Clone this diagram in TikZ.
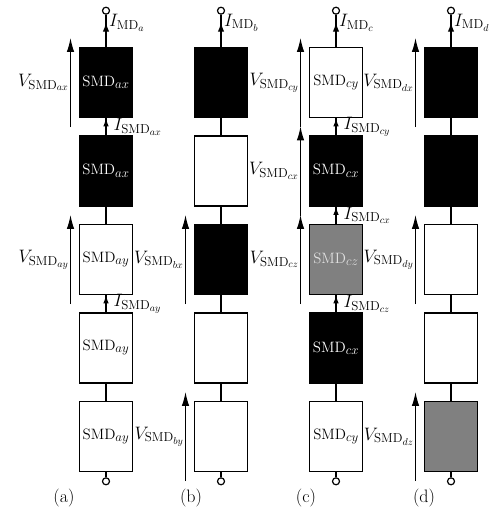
\RequirePackage{fix-cm}
\documentclass[tikz,border=0pt]{standalone}
\usetikzlibrary{arrows.meta}
% large subscripts for the cell names and the electrical labels
\DeclareMathSizes{15}{15}{13}{10}
\DeclareMathSizes{18}{18}{13}{10}
\begin{document}
\begin{tikzpicture}[x=1pt,y=-1pt,
  cell/.style={draw=black, line width=1.6pt, minimum width=53pt, minimum height=70pt,
    inner sep=0pt, font=\fontsize{15}{17}\selectfont},
  wcell/.style={cell, fill=white, text=black},
  bcell/.style={cell, fill=black, text=white},
  gcell/.style={cell, fill=black!50, text=black!12},
  wire/.style={line width=1.3pt},
  cur/.style={wire, -{Latex[length=8pt,width=5.5pt]}},
  feed/.style={wire, -{Latex[length=9pt,width=6.5pt]}},
  volt/.style={line width=1.2pt, -{Latex[length=14pt,width=7.5pt]}},
  term/.style={circle, draw=black, line width=1.2pt, fill=white, minimum size=7pt, inner sep=0pt},
  lab/.style={font=\fontsize{18}{21}\selectfont, inner sep=1pt},
  caption/.style={font=\fontsize{18}{21}\selectfont, inner sep=0pt}
]
\useasboundingbox (0,0) rectangle (491,510);

% ---- column (a) ----
\node[bcell] (a1) at (106,82.5)  {$\mathrm{SMD}_{ax}$};
\node[bcell] (a2) at (106,171)   {$\mathrm{SMD}_{ax}$};
\node[wcell] (a3) at (106,259.5) {$\mathrm{SMD}_{ay}$};
\node[wcell] (a4) at (106,348)   {$\mathrm{SMD}_{ay}$};
\node[wcell] (a5) at (106,436.5) {$\mathrm{SMD}_{ay}$};
% ---- column (b) ----
\node[bcell] (b1) at (221,82.5)  {};
\node[wcell] (b2) at (221,171)   {};
\node[bcell] (b3) at (221,259.5) {};
\node[wcell] (b4) at (221,348)   {};
\node[wcell] (b5) at (221,436.5) {};
% ---- column (c) ----
\node[wcell] (c1) at (336,82.5)  {$\mathrm{SMD}_{cy}$};
\node[bcell] (c2) at (336,171)   {$\mathrm{SMD}_{cx}$};
\node[gcell] (c3) at (336,259.5) {$\mathrm{SMD}_{cz}$};
\node[bcell] (c4) at (336,348)   {$\mathrm{SMD}_{cx}$};
\node[wcell] (c5) at (336,436.5) {$\mathrm{SMD}_{cy}$};
% ---- column (d) ----
\node[bcell] (d1) at (451,82.5)  {};
\node[bcell] (d2) at (451,171)   {};
\node[wcell] (d3) at (451,259.5) {};
\node[wcell] (d4) at (451,348)   {};
\node[gcell] (d5) at (451,436.5) {};

% terminals, feed wires and inter-cell links
\foreach \c in {a,b,c,d}{
  \node[term] (t\c) at ([yshift=36pt]\c1.north) {};
  \node[term] (u\c) at ([yshift=-9pt]\c5.south) {};
  \draw[wire] (\c1.north) -- (t\c.south);
  \draw[feed] (\c1.north) -- ++(0,-24)
    node[lab, anchor=west, xshift=1.5pt] {$I_{\mathrm{MD}_{\c}}$};
  \draw[wire] (\c5.south) -- (u\c.north);
  \draw[wire] (\c1.south) -- (\c2.north);
  \draw[wire] (\c2.south) -- (\c3.north);
  \draw[wire] (\c3.south) -- (\c4.north);
  \draw[wire] (\c4.south) -- (\c5.north);
}

% branch currents
\draw[cur] (a2.north) -- (a1.south) node[midway, lab, anchor=west, xshift=6pt] {$I_{\mathrm{SMD}_{ax}}$};
\draw[cur] (a4.north) -- (a3.south) node[midway, lab, anchor=west, xshift=6pt] {$I_{\mathrm{SMD}_{ay}}$};
\draw[cur] (c2.north) -- (c1.south) node[midway, lab, anchor=west, xshift=6pt] {$I_{\mathrm{SMD}_{cy}}$};
\draw[cur] (c3.north) -- (c2.south) node[midway, lab, anchor=west, xshift=6pt] {$I_{\mathrm{SMD}_{cx}}$};
\draw[cur] (c4.north) -- (c3.south) node[midway, lab, anchor=west, xshift=6pt] {$I_{\mathrm{SMD}_{cz}}$};

% cell voltages
\tikzset{vfrom/.style={xshift=-35.5pt, yshift=-8.75pt}, vto/.style={xshift=-35.5pt, yshift=8.75pt}}
\draw[volt] ([vfrom]a1.south) -- ([vto]a1.north) node[midway, lab, left] {$V_{\mathrm{SMD}_{ax}}$};
\draw[volt] ([vfrom]a3.south) -- ([vto]a3.north) node[midway, lab, left] {$V_{\mathrm{SMD}_{ay}}$};
\draw[volt] ([vfrom]b3.south) -- ([vto]b3.north) node[midway, lab, left] {$V_{\mathrm{SMD}_{bx}}$};
\draw[volt] ([vfrom]b5.south) -- ([vto]b5.north) node[midway, lab, left] {$V_{\mathrm{SMD}_{by}}$};
\draw[volt] ([vfrom]c1.south) -- ([vto]c1.north) node[midway, lab, left] {$V_{\mathrm{SMD}_{cy}}$};
\draw[volt] ([vfrom]c2.south) -- ([vto]c2.north) node[midway, lab, left] {$V_{\mathrm{SMD}_{cx}}$};
\draw[volt] ([vfrom]c3.south) -- ([vto]c3.north) node[midway, lab, left] {$V_{\mathrm{SMD}_{cz}}$};
\draw[volt] ([vfrom]d1.south) -- ([vto]d1.north) node[midway, lab, left] {$V_{\mathrm{SMD}_{dx}}$};
\draw[volt] ([vfrom]d3.south) -- ([vto]d3.north) node[midway, lab, left] {$V_{\mathrm{SMD}_{dy}}$};
\draw[volt] ([vfrom]d5.south) -- ([vto]d5.north) node[midway, lab, left] {$V_{\mathrm{SMD}_{dz}}$};

% captions
\node[caption] (capa) at (64,498)  {(a)};
\node[caption] (capb) at (191,498) {(b)};
\node[caption] (capc) at (306,498) {(c)};
\node[caption] (capd) at (424,498) {(d)};
\end{tikzpicture}
\end{document}
